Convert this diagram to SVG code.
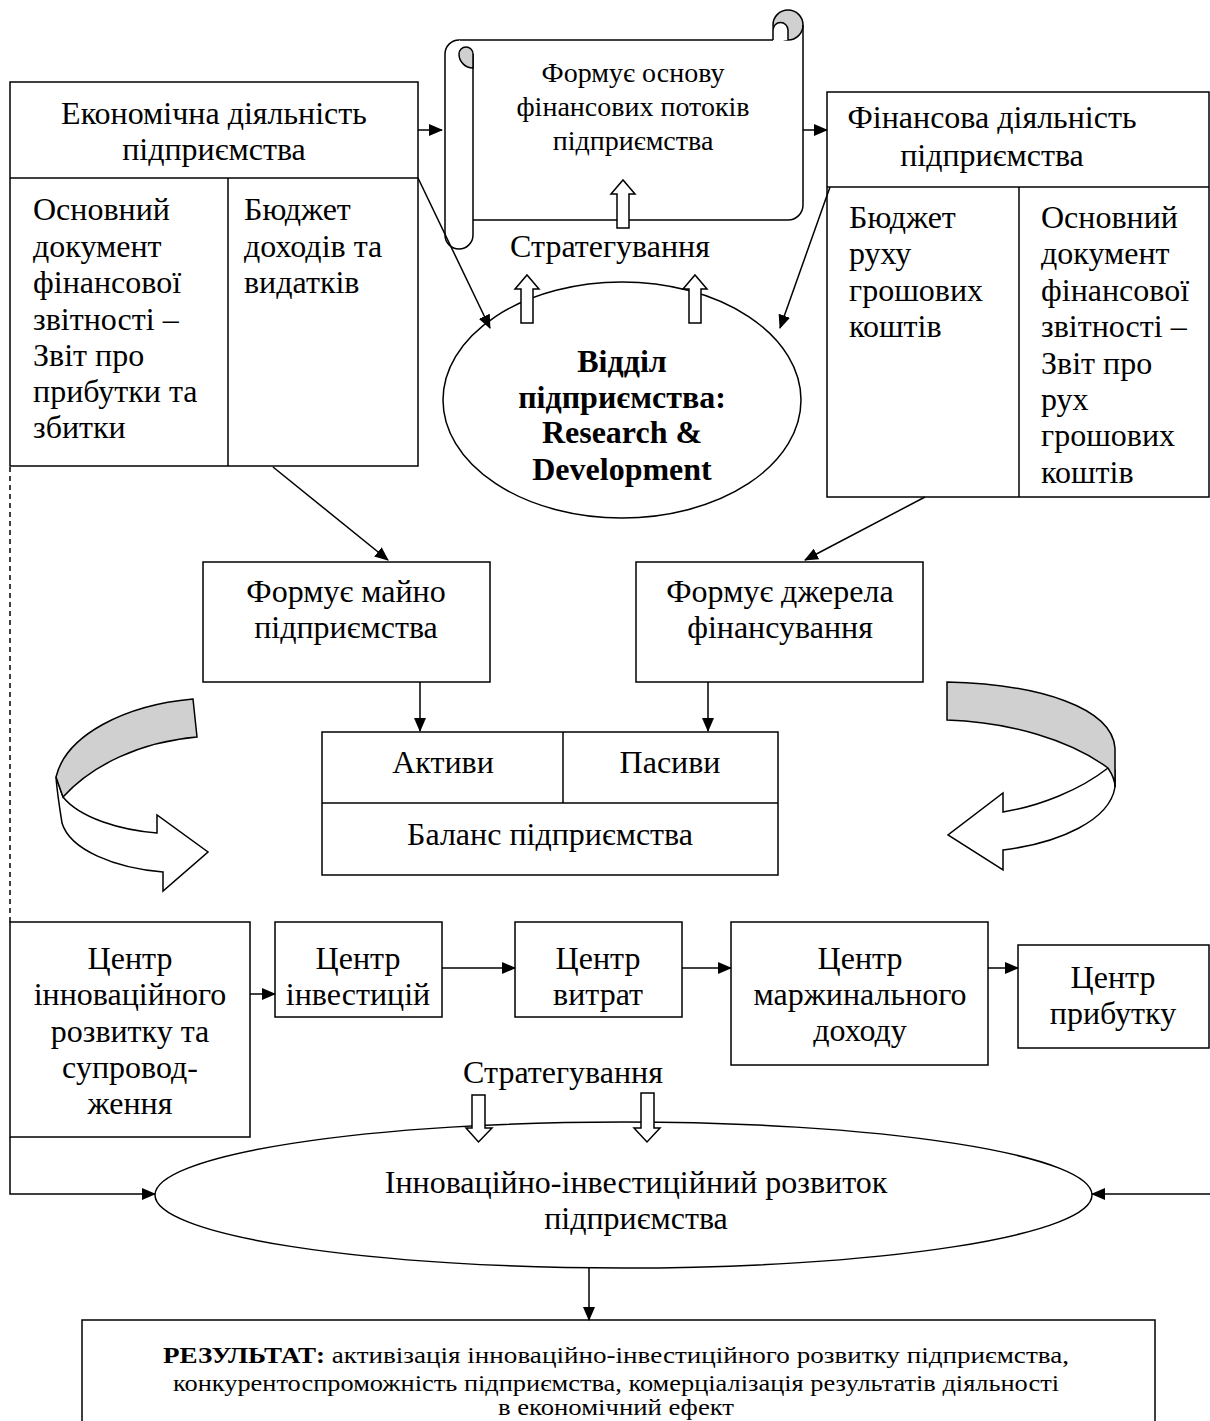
<svg xmlns="http://www.w3.org/2000/svg" width="1210" height="1421" viewBox="0 0 1210 1421">
<defs>
<marker id="ah" markerUnits="userSpaceOnUse" markerWidth="14" markerHeight="12" viewBox="0 0 14 12" refX="13" refY="6" orient="auto"><path d="M0,0 L14,6 L0,12 Z" fill="#000"/></marker>
<style>
.b{fill:#fff;stroke:#000;stroke-width:1.5}
.l{fill:none;stroke:#000;stroke-width:1.5}
.t{font-family:"Liberation Serif","Times New Roman",serif;font-size:32px;fill:#000}
.c{text-anchor:middle}
.s{font-size:28px}
.bold{font-weight:bold}
.r{font-size:24px}
.g{fill:#d0d0d0;stroke:#000;stroke-width:1.5}
</style>
</defs>
<rect width="1210" height="1421" fill="#fff"/>

<g id="econ">
<rect class="b" x="10" y="82" width="408" height="384"/>
<line class="l" x1="10" y1="178" x2="418" y2="178"/>
<line class="l" x1="228" y1="178" x2="228" y2="466"/>
<text class="t c" x="214" y="124">Економічна діяльність</text>
<text class="t c" x="214" y="160">підприємства</text>
<text class="t" x="33" y="220">Основний</text>
<text class="t" x="33" y="257">документ</text>
<text class="t" x="33" y="293">фінансової</text>
<text class="t" x="33" y="330">звітності –</text>
<text class="t" x="33" y="366">Звіт про</text>
<text class="t" x="33" y="402">прибутки та</text>
<text class="t" x="33" y="438">збитки</text>
<text class="t" x="244" y="220">Бюджет</text>
<text class="t" x="244" y="257">доходів та</text>
<text class="t" x="244" y="293">видатків</text>
</g>

<g id="scroll">
<path d="M473,40 H788 V220 H473 Z" fill="#fff"/>
<path class="l" d="M459,40 H773"/>
<circle class="g" cx="788" cy="25" r="15"/>
<path class="l" d="M803,25 V205 A15,15 0 0 1 788,220 H473"/>
<path class="b" d="M773,40 V30 A7.5,7.5 0 0 1 788,30 V40"/>
<path class="b" d="M459,40 A14,14 0 0 0 445,54 V235 A14,14 0 0 0 473,235 V54"/>
<path class="g" d="M466,47 A7,7 0 0 1 473,54 V68 A14,14 0 0 1 459,54 A7,7 0 0 1 466,47 Z"/>
<text class="t s c" x="633" y="82">Формує основу</text>
<text class="t s c" x="633" y="116">фінансових потоків</text>
<text class="t s c" x="633" y="150">підприємства</text>
<polygon class="b" points="617,228 617,194 611,194 623,180 635,194 629,194 629,228"/>
</g>

<g id="strat-top">
<text class="t c" x="610" y="257">Стратегування</text>
</g>

<g id="fin">
<rect class="b" x="827" y="92" width="382" height="405"/>
<line class="l" x1="827" y1="187" x2="1209" y2="187"/>
<line class="l" x1="1019" y1="187" x2="1019" y2="497"/>
<text class="t c" x="992" y="128">Фінансова діяльність</text>
<text class="t c" x="992" y="166">підприємства</text>
<text class="t" x="849" y="228">Бюджет</text>
<text class="t" x="849" y="264">руху</text>
<text class="t" x="849" y="301">грошових</text>
<text class="t" x="849" y="337">коштів</text>
<text class="t" x="1041" y="228">Основний</text>
<text class="t" x="1041" y="264">документ</text>
<text class="t" x="1041" y="301">фінансової</text>
<text class="t" x="1041" y="337">звітності –</text>
<text class="t" x="1041" y="374">Звіт про</text>
<text class="t" x="1041" y="410">рух</text>
<text class="t" x="1041" y="446">грошових</text>
<text class="t" x="1041" y="483">коштів</text>
</g>

<g id="rnd">
<ellipse class="b" cx="622" cy="400" rx="179" ry="118"/>
<polygon class="b" points="521,323 521,289 515,289 527,275 539,289 533,289 533,323"/>
<polygon class="b" points="689,323 689,289 683,289 695,275 707,289 701,289 701,323"/>
<text class="t bold c" x="622" y="372">Відділ</text>
<text class="t bold c" x="622" y="408">підприємства:</text>
<text class="t bold c" x="622" y="443">Research &amp;</text>
<text class="t bold c" x="622" y="480">Development</text>
</g>

<g id="maino">
<rect class="b" x="203" y="562" width="287" height="120"/>
<text class="t c" x="346" y="602">Формує майно</text>
<text class="t c" x="346" y="638">підприємства</text>
</g>

<g id="dzherela">
<rect class="b" x="636" y="562" width="287" height="120"/>
<text class="t c" x="780" y="602">Формує джерела</text>
<text class="t c" x="780" y="638">фінансування</text>
</g>

<g id="balance">
<rect class="b" x="322" y="732" width="456" height="143"/>
<line class="l" x1="322" y1="803" x2="778" y2="803"/>
<line class="l" x1="563" y1="732" x2="563" y2="803"/>
<text class="t c" x="443" y="773">Активи</text>
<text class="t c" x="670" y="773">Пасиви</text>
<text class="t c" x="550" y="845">Баланс підприємства</text>
</g>

<g id="curve-left">
<path class="b" d="M56,777 C57,792 60,810 62,823 C70,850 115,868 163,872 L163,891 L208,852 L157,815 L157,833 C120,830 80,818 63,797 Z"/>
<path class="g" d="M193,699 C125,705 66,735 56,777 L63,797 C92,765 140,742 197,737 Z"/>
</g>

<g id="curve-right">
<path class="b" d="M1108,768 C1080,790 1040,806 1003,812 L1003,793 L948,835 L1003,870 L1003,850 C1060,843 1110,820 1115,787 L1115,770 Z"/>
<path class="g" d="M947,682 C1040,684 1112,708 1115,748 L1115,787 C1115,780 1112,774 1108,768 C1070,740 1010,722 947,720 Z"/>
</g>

<g id="c-innov">
<rect class="b" x="10" y="922" width="240" height="215"/>
<text class="t c" x="130" y="969">Центр</text>
<text class="t c" x="130" y="1005">інноваційного</text>
<text class="t c" x="130" y="1042">розвитку та</text>
<text class="t c" x="130" y="1078">супровод-</text>
<text class="t c" x="130" y="1114">ження</text>
</g>

<g id="c-invest">
<rect class="b" x="275" y="922" width="167" height="95"/>
<text class="t c" x="358" y="969">Центр</text>
<text class="t c" x="358" y="1005">інвестицій</text>
</g>

<g id="c-vytrat">
<rect class="b" x="515" y="922" width="167" height="95"/>
<text class="t c" x="598" y="969">Центр</text>
<text class="t c" x="598" y="1005">витрат</text>
</g>

<g id="c-marzh">
<rect class="b" x="731" y="922" width="257" height="143"/>
<text class="t c" x="860" y="969">Центр</text>
<text class="t c" x="860" y="1005">маржинального</text>
<text class="t c" x="860" y="1041">доходу</text>
</g>

<g id="c-prybutok">
<rect class="b" x="1018" y="945" width="191" height="103"/>
<text class="t c" x="1113" y="988">Центр</text>
<text class="t c" x="1113" y="1024">прибутку</text>
</g>

<g id="strat-bottom">
<text class="t c" x="563" y="1083">Стратегування</text>
</g>

<g id="innov-dev">
<ellipse class="b" cx="623.5" cy="1195" rx="468.5" ry="73"/>
<polygon class="b" points="472,1095 485,1095 485,1128 492,1128 478.5,1142 466,1128 472,1128"/>
<polygon class="b" points="641,1093 654,1093 654,1128 660,1128 647,1142 634,1128 641,1128"/>
<text class="t c" x="636" y="1193">Інноваційно-інвестиційний розвиток</text>
<text class="t c" x="636" y="1229">підприємства</text>
</g>

<g id="result">
<rect class="b" x="82" y="1320" width="1073" height="110"/>
<text class="t r c" x="616" y="1363" textLength="906" lengthAdjust="spacingAndGlyphs"><tspan class="bold">РЕЗУЛЬТАТ:</tspan> активізація інноваційно-інвестиційного розвитку підприємства,</text>
<text class="t r c" x="616" y="1391" textLength="886" lengthAdjust="spacingAndGlyphs">конкурентоспроможність підприємства, комерціалізація результатів діяльності</text>
<text class="t r c" x="616" y="1415" textLength="236" lengthAdjust="spacingAndGlyphs">в економічний ефект</text>
</g>

<g id="connectors">
<line class="l" x1="418" y1="130" x2="442" y2="130" marker-end="url(#ah)"/>
<line class="l" x1="803" y1="130" x2="827" y2="130" marker-end="url(#ah)"/>
<line class="l" x1="418" y1="178" x2="490" y2="328" marker-end="url(#ah)"/>
<line class="l" x1="830" y1="187" x2="780" y2="328" marker-end="url(#ah)"/>
<line class="l" x1="273" y1="467" x2="388" y2="560" marker-end="url(#ah)"/>
<line class="l" x1="925" y1="497" x2="805" y2="560" marker-end="url(#ah)"/>
<line class="l" x1="420" y1="682" x2="420" y2="731" marker-end="url(#ah)"/>
<line class="l" x1="708" y1="682" x2="708" y2="731" marker-end="url(#ah)"/>
<line class="l" x1="10" y1="467" x2="10" y2="922" stroke-dasharray="5,4"/>
<polyline class="l" points="10,1137 10,1194 155,1194" marker-end="url(#ah)"/>
<line class="l" x1="1210" y1="1194" x2="1092" y2="1194" marker-end="url(#ah)"/>
<line class="l" x1="250" y1="994" x2="275" y2="994" marker-end="url(#ah)"/>
<line class="l" x1="442" y1="968" x2="515" y2="968" marker-end="url(#ah)"/>
<line class="l" x1="682" y1="968" x2="731" y2="968" marker-end="url(#ah)"/>
<line class="l" x1="988" y1="968" x2="1018" y2="968" marker-end="url(#ah)"/>
<line class="l" x1="589" y1="1268" x2="589" y2="1320" marker-end="url(#ah)"/>
</g>
</svg>
